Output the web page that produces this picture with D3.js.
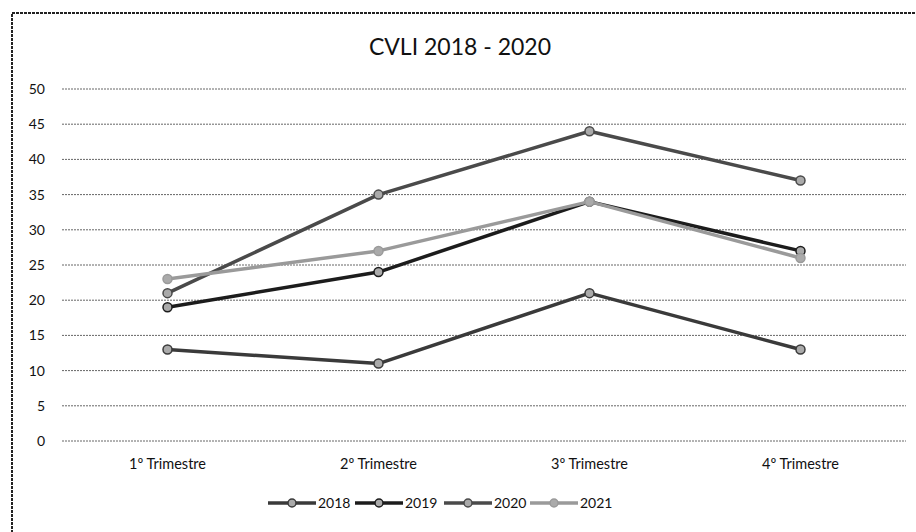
<!DOCTYPE html>
<html><head><meta charset="utf-8">
<script src="https://cdn.jsdelivr.net/npm/d3@7"></script>
<style>
body{margin:0;background:#fff;}
svg{font-family:Lato,"Open Sans",sans-serif;}
</style></head>
<body><svg id="c" width="916" height="532"></svg>
<script>
const categories = ["1º Trimestre","2º Trimestre","3º Trimestre","4º Trimestre"];
const seriesNames = ["2018","2019","2020","2021"];
const v2018 = [13, 11, 21, 13];
const v2019 = [19, 24, 34, 27];
const v2020 = [21, 35, 44, 37];
const v2021 = [23, 27, 34, 26];
const yTicks = [0,5,10,15,20,25,30,35,40,45,50];
const colors = ["#3a3a3a","#1c1c1c","#4a4a4a","#9a9a9a"];
const series = [v2018, v2019, v2020, v2021];

const svg = d3.select("#c");
svg.append("rect").attr("x",12).attr("y",13).attr("width",920).attr("height",540)
  .attr("fill","none").attr("stroke","#222").attr("stroke-width",2).attr("stroke-dasharray","3,1");

const x = d3.scaleBand().domain(categories).range([62,906]);
const y = d3.scaleLinear().domain([0,50]).range([441,89]);

svg.append("text").attr("x",460).attr("y",55).attr("text-anchor","middle")
  .attr("font-size",23).attr("fill","#111").text("CVLI 2018 - 2020");

const grid = svg.append("g");
grid.selectAll("line").data(yTicks).join("line")
  .attr("x1",62).attr("x2",906).attr("y1",d=>y(d)).attr("y2",d=>y(d))
  .attr("stroke","#666").attr("stroke-width",1).attr("stroke-dasharray","2,1");

const yAxis = svg.append("g").attr("transform","translate(45,0)")
  .call(d3.axisLeft(y).tickValues(yTicks).tickSize(0).tickPadding(0));
yAxis.select(".domain").remove();
yAxis.selectAll("text").attr("font-size",14).attr("fill","#111").attr("font-family","Lato,sans-serif");

const xAxis = svg.append("g").attr("transform","translate(0,455)")
  .call(d3.axisBottom(x).tickSize(0).tickPadding(4));
xAxis.select(".domain").remove();
xAxis.selectAll("text").attr("font-size",14.5).attr("fill","#111").attr("font-family","Lato,sans-serif");

const line = d3.line().x((d,i)=>x(categories[i])+x.bandwidth()/2).y(d=>y(d));
series.forEach((s,k)=>{
  const g = svg.append("g");
  g.append("path").datum(s).attr("d",line).attr("fill","none")
    .attr("stroke",colors[k]).attr("stroke-width",3.5).attr("stroke-linejoin","round");
  g.selectAll("circle").data(s).join("circle")
    .attr("cx",(d,i)=>x(categories[i])+x.bandwidth()/2).attr("cy",d=>y(d)).attr("r",4.5)
    .attr("fill","#aaa").attr("stroke",colors[k]).attr("stroke-width",1.5);
});

// legend
const legX = [268, 355, 444, 530];
const lg = svg.append("g");
seriesNames.forEach((n,k)=>{
  const g = lg.append("g").attr("transform",`translate(${legX[k]},503)`);
  g.append("line").attr("x1",0).attr("x2",48).attr("y1",0).attr("y2",0)
    .attr("stroke",colors[k]).attr("stroke-width",3.5);
  g.append("circle").attr("cx",24).attr("cy",0).attr("r",4)
    .attr("fill","#aaa").attr("stroke",colors[k]).attr("stroke-width",1.5);
  g.append("text").attr("x",50).attr("y",5).attr("font-size",14).attr("fill","#111").text(n);
});
</script></body></html>
